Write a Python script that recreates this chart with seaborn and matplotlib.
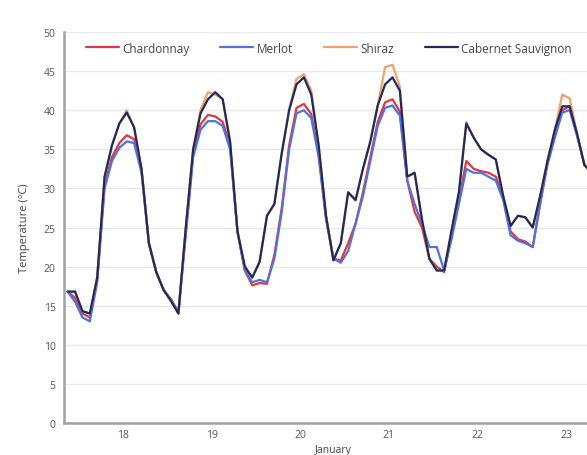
import pandas as pd
import matplotlib
matplotlib.use("Agg")
import matplotlib.pyplot as plt
import matplotlib.dates as mdates
import seaborn as sns

# 2-hourly readings, 17 Jan 2014 09:00 onwards
times = pd.date_range("2014-01-17 09:00", periods=72, freq="2h")

chardonnay = [16.8, 16.0, 14.0, 13.5, 18.5, 30.5, 34.0, 35.8, 36.8, 36.3, 32.5, 23.0,
              19.3, 17.0, 15.8, 14.2, 24.5, 34.5, 38.2, 39.4, 39.2, 38.5, 35.5, 24.5,
              19.5, 17.6, 17.9, 17.8, 21.5, 27.5, 35.5, 40.3, 40.8, 39.5, 34.5, 26.3,
              21.0, 20.8, 23.0, 25.5, 29.5, 34.0, 38.5, 41.0, 41.4, 39.8, 31.0, 27.0,
              25.0, 21.0, 20.0, 19.3, 24.0, 28.5, 33.5, 32.5, 32.2, 32.0, 31.5, 29.0,
              24.5, 23.5, 23.2, 22.5, 28.0, 33.5, 37.0, 40.0, 40.5, 37.0, 33.0, 32.0]

merlot = [16.8, 15.5, 13.5, 13.0, 18.0, 30.0, 33.5, 35.2, 36.0, 35.8, 32.0, 23.0,
          19.3, 17.0, 15.8, 14.0, 24.0, 34.0, 37.5, 38.6, 38.6, 38.0, 35.0, 24.5,
          19.5, 18.0, 18.3, 18.0, 21.0, 27.0, 35.0, 39.6, 40.0, 39.0, 34.0, 26.0,
          21.0, 20.5, 22.0, 25.5, 29.0, 33.5, 38.0, 40.3, 40.6, 39.3, 31.0, 28.0,
          25.5, 22.5, 22.5, 19.5, 23.5, 28.0, 32.5, 32.0, 32.0, 31.5, 31.0, 28.5,
          24.0, 23.3, 23.0, 22.5, 28.0, 33.0, 36.5, 39.7, 40.0, 36.7, 33.0, 32.0]

shiraz = [16.8, 16.8, 14.3, 14.0, 18.6, 31.5, 35.5, 38.3, 40.0, 37.8, 32.5, 23.0,
          19.3, 17.0, 15.6, 14.0, 25.0, 35.0, 40.0, 42.3, 42.0, 41.4, 36.0, 24.5,
          20.0, 18.6, 20.6, 26.5, 28.0, 34.5, 40.0, 44.0, 44.6, 42.5, 35.5, 26.5,
          20.8, 23.0, 29.5, 28.5, 32.5, 36.0, 40.6, 45.5, 45.8, 43.0, 31.5, 32.0,
          26.0, 21.0, 19.5, 19.5, 24.6, 29.5, 38.5, 36.5, 35.0, 34.3, 33.7, 29.0,
          25.2, 26.5, 26.3, 25.0, 29.0, 33.5, 37.5, 42.0, 41.5, 37.0, 33.0, 32.0]

cabernet = [16.8, 16.8, 14.3, 14.0, 18.6, 31.5, 35.5, 38.3, 39.7, 37.8, 32.5, 23.0,
            19.3, 17.0, 15.6, 14.0, 25.0, 35.0, 39.6, 41.4, 42.3, 41.4, 36.0, 24.5,
            20.0, 18.6, 20.6, 26.5, 28.0, 34.5, 40.0, 43.3, 44.2, 42.0, 35.5, 26.5,
            20.8, 23.0, 29.5, 28.5, 32.5, 36.0, 40.6, 43.3, 44.2, 42.5, 31.5, 32.0,
            26.0, 21.0, 19.5, 19.5, 24.6, 29.5, 38.3, 36.5, 35.0, 34.3, 33.7, 29.0,
            25.2, 26.5, 26.3, 25.0, 29.0, 33.5, 37.5, 40.5, 40.5, 37.0, 33.0, 32.0]

varieties = ["Chardonnay", "Merlot", "Shiraz", "Cabernet Sauvignon"]
colors = ["#e0383c", "#4f72e3", "#f2a06c", "#1e2b5c"]

df = pd.DataFrame({"time": times, "Chardonnay": chardonnay, "Merlot": merlot,
                   "Shiraz": shiraz, "Cabernet Sauvignon": cabernet})
long_df = df.melt(id_vars="time", var_name="variety", value_name="temp")

sns.set_style("white")
plt.rcParams["font.family"] = ["Open Sans", "DejaVu Sans"]

fig = plt.figure(figsize=(5.87, 4.56), dpi=100)
ax = fig.add_axes([0.109, 0.0702, 0.918, 0.8574])

sns.lineplot(data=long_df, x="time", y="temp", hue="variety", hue_order=varieties,
             palette=colors, linewidth=1.6, ax=ax)

ax.set_ylim(0, 50)
ax.set_xlim(pd.Timestamp("2014-01-17 08:00"), pd.Timestamp("2014-01-23 10:00"))
ax.set_yticks(range(0, 51, 5))
ax.yaxis.grid(True, color="#e8e8e8", linewidth=1)
ax.xaxis.grid(False)

ax.xaxis.set_major_locator(mdates.DayLocator())
ax.xaxis.set_major_formatter(mdates.DateFormatter("%d"))
ax.tick_params(axis="x", direction="in", length=5, width=1, color="#999999",
               labelsize=7.5, labelcolor="#555555", pad=4)
ax.tick_params(axis="y", length=0, labelsize=7.5, labelcolor="#555555", pad=6)

for side in ["top", "right"]:
    ax.spines[side].set_visible(False)
for side in ["left", "bottom"]:
    ax.spines[side].set_color("#a0a0a0")
    ax.spines[side].set_linewidth(1.8)

ax.set_xlabel("January", fontsize=7.5, color="#444444", labelpad=3)
ax.set_ylabel("Temperature (°C)", fontsize=8, color="#444444", labelpad=10)

ax.legend(loc="upper left", bbox_to_anchor=(75 / 587, 1 - 32 / 456),
          bbox_transform=fig.transFigure, ncol=4, frameon=False,
          fontsize=8.5, handlelength=2.8, handletextpad=0.3, columnspacing=2.6,
          labelcolor="#444444")

fig.savefig("out.png", dpi=100)
